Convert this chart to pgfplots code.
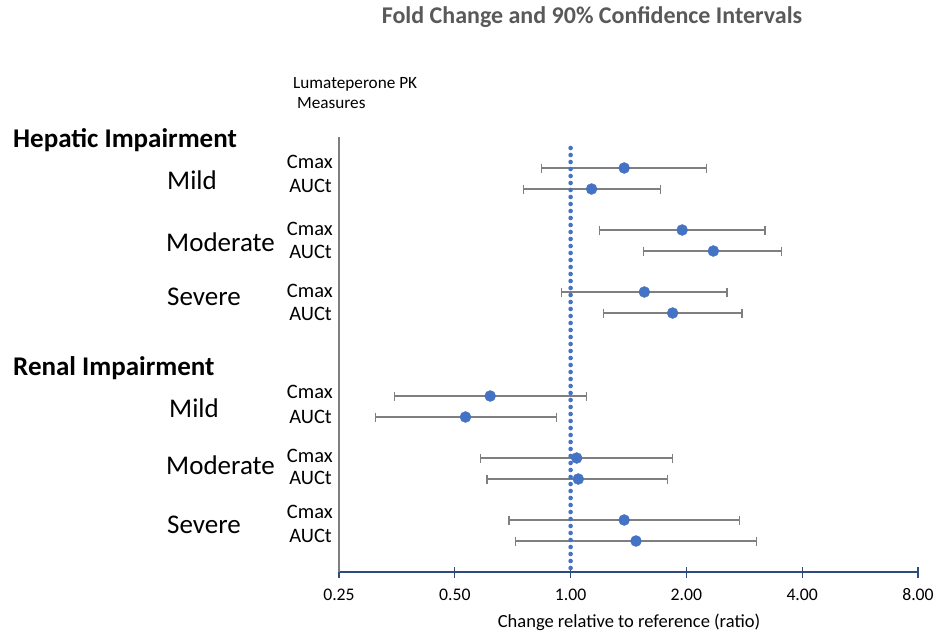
\documentclass[border=0pt]{standalone}
\usepackage{pgfplots}
\usepackage{pgfplotstable}
\pgfplotsset{compat=1.18}
\usepackage{fontspec}
\setmainfont{Carlito}
\definecolor{ptblue}{HTML}{4472C4}
\definecolor{bargray}{HTML}{7F7F7F}
\definecolor{axnavy}{HTML}{2F4B7C}
\definecolor{titlegray}{HTML}{595959}
\newcommand{\fs}[1]{\fontsize{#1}{#1}\selectfont}

% y = row position (pixels from top), low/est/high = ratio
\pgfplotstableread{
y   low    est    high
168 0.839  1.378  2.26
189 0.755  1.134  1.716
230 1.19   1.95   3.20
251 1.548  2.35   3.54
292 0.947  1.555  2.55
313 1.217  1.842  2.79
396 0.348  0.618  1.098
417 0.311  0.533  0.919
458 0.583  1.037  1.842
479 0.606  1.047  1.788
520 0.692  1.378  2.75
541 0.718  1.479  3.05
}\pkdata

\begin{document}
\begin{tikzpicture}
\path[use as bounding box] (0pt,0pt) rectangle (938pt,-635pt);
\begin{axis}[
  at={(339pt,-572pt)}, anchor=south west,
  scale only axis, width=579pt, height=435pt,
  xmode=log, log basis x=2, xmin=0.25, xmax=8,
  ymin=-572, ymax=-137,
  axis x line=bottom, axis y line=left,
  x axis line style={axnavy, line width=1.4pt, -},
  y axis line style={bargray, line width=1.4pt, -},
  xtick={0.25,0.5,1,2,4,8},
  xticklabels={0.25,0.50,1.00,2.00,4.00,8.00},
  ytick=\empty,
  tick align=center, major tick length=11pt,
  x tick style={axnavy, line width=1.1pt},
  xticklabel style={font=\fs{17.7}, anchor=base, yshift=-22.5pt},
  clip=false,
]
% confidence intervals
\addplot[bargray, line width=1.4pt, mark=|, mark size=4.5pt, mark options={solid, line width=1.2pt}, unbounded coords=jump] table {
x y
0.839 -168
2.26 -168
nan nan
0.755 -189
1.716 -189
nan nan
1.19 -230
3.20 -230
nan nan
1.548 -251
3.54 -251
nan nan
0.947 -292
2.55 -292
nan nan
1.217 -313
2.79 -313
nan nan
0.348 -396
1.098 -396
nan nan
0.311 -417
0.919 -417
nan nan
0.583 -458
1.842 -458
nan nan
0.606 -479
1.788 -479
nan nan
0.692 -520
2.75 -520
nan nan
0.718 -541
3.05 -541
};
% reference line
\addplot[ptblue, line width=4.6pt, line cap=round, dash pattern=on 0pt off 7pt] coordinates {(1,-148) (1,-572)};
% point estimates
\addplot[only marks, mark=*, mark size=5.5pt, mark options={fill=ptblue, draw=ptblue}] table[x=est, y expr=-\thisrow{y}] {\pkdata};
\end{axis}

\node[anchor=base, inner sep=0, font=\bfseries\fs{24}, text=titlegray] at (592pt,-23pt) {Fold Change and 90\% Confidence Intervals};
\node[anchor=base west, inner sep=0, font=\fs{17.2}] at (293pt,-88pt) {Lumateperone PK};
\node[anchor=base west, inner sep=0, font=\fs{17.2}] at (297pt,-108pt) {Measures};

\node[anchor=base west, inner sep=0, font=\bfseries\fs{27}] at (13pt,-147pt) {Hepatic Impairment};
\node[anchor=base west, inner sep=0, font=\fs{27}] at (167pt,-189pt) {Mild};
\node[anchor=base west, inner sep=0, font=\fs{27}] at (166pt,-251pt) {Moderate};
\node[anchor=base west, inner sep=0, font=\fs{27}] at (167pt,-305pt) {Severe};

\node[anchor=base west, inner sep=0, font=\bfseries\fs{27}] at (13pt,-375pt) {Renal Impairment};
\node[anchor=base west, inner sep=0, font=\fs{27}] at (169pt,-417pt) {Mild};
\node[anchor=base west, inner sep=0, font=\fs{27}] at (166pt,-474pt) {Moderate};
\node[anchor=base west, inner sep=0, font=\fs{27}] at (167pt,-533pt) {Severe};

\foreach \yc/\ya in {168/192, 235/258, 297/320, 398/423, 462/484, 518/542}{
  \node[anchor=base east, inner sep=0, font=\fs{20.5}] at (333pt,-\yc pt) {Cmax};
  \node[anchor=base east, inner sep=0, font=\fs{20.5}] at (332pt,-\ya pt) {AUCt};
}

\node[anchor=base, inner sep=0, font=\fs{18.5}] at (629pt,-627pt) {Change relative to reference (ratio)};
\end{tikzpicture}
\end{document}
